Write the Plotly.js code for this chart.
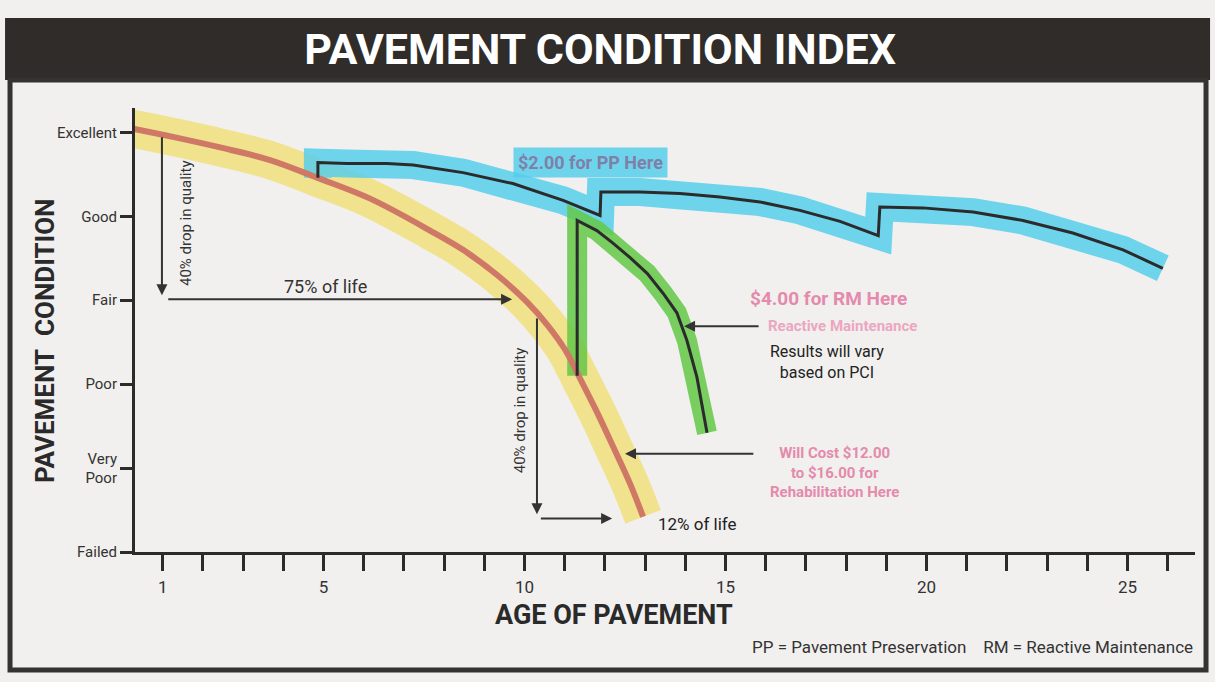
<!DOCTYPE html>
<html>
<head>
<meta charset="utf-8">
<script src="https://cdn.plot.ly/plotly-3.0.1.min.js"></script>
<style>
html,body{margin:0;padding:0;background:#f1f0ee;}
#chart{width:1215px;height:682px;}
</style>
</head>
<body>
<div id="chart"></div>
<script>
// ---- Data (age in years, condition 0=Failed .. 5=Excellent) ----
var conditionLabels = ['Failed', 'Very<br>Poor', 'Poor', 'Fair', 'Good', 'Excellent'];
var conditionValues = [0, 1, 2, 3, 4, 5];
var ageTicks = [1,2,3,4,5,6,7,8,9,10,11,12,13,14,15,16,17,18,19,20,21,22,23,24,25,26];
var ageTickLabels = ['1','','','','5','','','','','10','','','','','15','','','','','20','','','','','25',''];

// Unmaintained deterioration curve
var noMaintAge  = [0.19, 1.31, 2.43, 3.67, 4.84, 6.16, 7.65, 8.47, 9.32, 10.06, 10.56, 11.01, 11.38, 11.80, 12.20, 12.62, 12.95];
var noMaintCond = [5.05, 4.94, 4.82, 4.67, 4.46, 4.21, 3.83, 3.60, 3.30, 2.98, 2.71, 2.41, 2.07, 1.67, 1.26, 0.82, 0.42];

// Pavement preservation (PP) path
var ppAge  = [4.86, 4.86, 5.58, 6.58, 7.23, 8.47, 9.71, 10.96, 11.88, 11.90, 12.87, 13.87, 14.86, 15.86, 16.85, 17.85, 18.80, 18.84, 19.91, 21.16, 22.40, 23.64, 24.89, 25.88];
var ppCond = [4.46, 4.64, 4.63, 4.63, 4.61, 4.52, 4.39, 4.19, 4.01, 4.29, 4.29, 4.27, 4.23, 4.17, 4.07, 3.94, 3.77, 4.11, 4.10, 4.05, 3.95, 3.80, 3.60, 3.38];

// Reactive maintenance (RM) path
var rmAge  = [11.31, 11.31, 11.80, 12.20, 12.62, 13.05, 13.45, 13.79, 14.04, 14.29, 14.54];
var rmCond = [2.10, 3.95, 3.83, 3.68, 3.51, 3.32, 3.08, 2.85, 2.52, 2.08, 1.42];

var fam = 'Roboto, "Liberation Sans", sans-serif';
var ink = '#2b2b2b';
var pink = '#e48aac';

var traces = [
  {x: noMaintAge, y: noMaintCond, mode: 'lines', line: {color: 'rgba(240,222,110,0.75)', width: 38, shape: 'spline'}, hoverinfo: 'skip', showlegend: false},
  {x: ppAge, y: ppCond, mode: 'lines', line: {color: 'rgba(80,205,235,0.82)', width: 28, shape: 'linear'}, hoverinfo: 'skip', showlegend: false},
  {x: rmAge, y: rmCond, mode: 'lines', line: {color: 'rgba(100,200,70,0.85)', width: 20, shape: 'linear'}, hoverinfo: 'skip', showlegend: false},
  {x: noMaintAge, y: noMaintCond, mode: 'lines', line: {color: '#cf7866', width: 6, shape: 'spline'}, name: 'No maintenance', showlegend: false},
  {x: ppAge, y: ppCond, mode: 'lines', line: {color: ink, width: 3}, name: 'Pavement Preservation', showlegend: false},
  {x: rmAge, y: rmCond, mode: 'lines', line: {color: ink, width: 3}, name: 'Reactive Maintenance', showlegend: false}
];

function arrow(tx, ty, hx, hy) {
  return {x: hx, y: hy, ax: tx, ay: ty, xref: 'x', yref: 'y', axref: 'x', ayref: 'y',
          text: '', showarrow: true, arrowhead: 2, arrowsize: 1.1, arrowwidth: 2, arrowcolor: '#333'};
}
function label(x, y, text, size, color, opts) {
  var a = {x: x, y: y, xref: 'x', yref: 'y', text: text, showarrow: false, xanchor: 'center', yanchor: 'middle',
           font: {family: fam, size: size, color: color}};
  for (var k in (opts || {})) a[k] = opts[k];
  return a;
}

var annotations = [
  arrow(0.98, 4.96, 0.98, 3.06),
  arrow(1.10, 3.01, 9.69, 3.01),
  arrow(10.31, 2.80, 10.31, 0.45),
  arrow(10.37, 0.40, 12.18, 0.40),
  arrow(15.86, 2.69, 13.97, 2.69),
  arrow(15.73, 1.17, 12.50, 1.17),
  label(1.58, 3.92, '40% drop in quality', 15, '#333', {textangle: -90}),
  label(9.89, 1.69, '40% drop in quality', 15, '#333', {textangle: -90}),
  label(5.04, 3.16, '75% of life', 18, '#333'),
  label(13.27, 0.33, '12% of life', 17, '#222', {xanchor: 'left'}),
  label(11.63, 4.64, '<b>$2.00 for PP Here</b>', 18, '#7f80a8', {bgcolor: 'rgba(80,205,235,0.82)', borderpad: 4}),
  label(17.55, 3.02, '<b>$4.00 for RM Here</b>', 19, pink),
  label(17.92, 2.69, '<b>Reactive Maintenance</b>', 15, '#eba6c2'),
  label(17.52, 2.26, 'Results will vary<br>based on PCI', 16, '#222'),
  label(17.72, 0.95, '<b>Will Cost $12.00<br>to $16.00 for<br>Rehabilitation Here</b>', 15, pink),
  {x: 0.452, y: -0.142, xref: 'paper', yref: 'paper', xanchor: 'center', yanchor: 'middle', text: '<b>AGE OF PAVEMENT</b>', showarrow: false,
   font: {family: fam, size: 27, color: '#2a2a2a'}},
  {x: -0.085, y: 0.477, xref: 'paper', yref: 'paper', xanchor: 'center', yanchor: 'middle', text: '<b>PAVEMENT\u00a0\u00a0CONDITION</b>', showarrow: false, textangle: -90,
   font: {family: fam, size: 26, color: '#2a2a2a'}},
  {x: 1.0, y: -0.214, xref: 'paper', yref: 'paper', xanchor: 'right', yanchor: 'middle',
   text: 'PP = Pavement Preservation\u00a0\u00a0\u00a0\u00a0RM = Reactive Maintenance', showarrow: false,
   font: {family: fam, size: 17, color: '#333'}}
];

var layout = {
  width: 1215, height: 682,
  margin: {l: 135, r: 20, t: 108, b: 130},
  paper_bgcolor: '#f1f0ee',
  plot_bgcolor: 'rgba(0,0,0,0)',
  title: {text: 'PAVEMENT CONDITION INDEX', x: 0.494, xref: 'container', y: 0.928, yref: 'container', yanchor: 'middle', xanchor: 'center',
          font: {family: fam, size: 43, color: '#ffffff', weight: 'bold'}},
  xaxis: {range: [0.31, 26.68], tickmode: 'array', tickvals: ageTicks, ticktext: ageTickLabels,
          ticks: 'outside', ticklen: 16, tickwidth: 3, tickcolor: ink, ticklabelstandoff: 2,
          showline: true, linewidth: 3, linecolor: ink, showgrid: false, zeroline: false,
          tickfont: {family: fam, size: 17, color: '#333'}},
  yaxis: {range: [0, 5.29], tickmode: 'array', tickvals: conditionValues, ticktext: conditionLabels,
          ticks: 'outside', ticklen: 12, tickwidth: 3, tickcolor: ink,
          showline: true, linewidth: 3, linecolor: ink, showgrid: false, zeroline: false,
          tickfont: {family: fam, size: 15, color: '#333'}},
  shapes: [
    {type: 'rect', xref: 'paper', yref: 'paper', x0: -0.1226, x1: 1.0142, y0: 1.063, y1: 1.2027,
     fillcolor: '#302c2a', line: {width: 0}, layer: 'below'},
    {type: 'rect', xref: 'paper', yref: 'paper', x0: -0.1179, x1: 1.0104, y0: -0.2658, y1: 1.063,
     fillcolor: 'rgba(0,0,0,0)', line: {color: '#333', width: 5}, layer: 'below'}
  ],
  annotations: annotations,
  showlegend: false
};

Plotly.newPlot('chart', traces, layout, {displayModeBar: false, staticPlot: true});
</script>
</body>
</html>
